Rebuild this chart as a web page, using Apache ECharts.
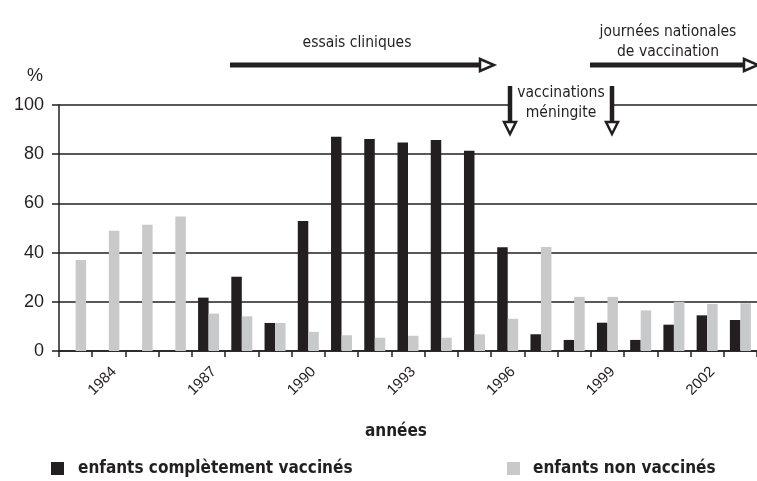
<!DOCTYPE html>
<html><head><meta charset="utf-8">
<script src="https://cdn.jsdelivr.net/npm/echarts@6/dist/echarts.min.js"></script>
<style>html,body{margin:0;padding:0;background:#fff}#c{width:757px;height:481px}</style>
</head><body><div id="c"></div>
<script>
const years = ['1983','1984','1985','1986','1987','1988','1989','1990','1991','1992','1993','1994','1995','1996','1997','1998','1999','2000','2001','2002','2003'];
const tickLabels = ['1984','1987','1990','1993','1996','1999','2002'];
const vaccinated = [0,0,0,0,21.7,30.2,11.4,52.8,87.1,86.2,84.8,85.8,81.4,42.2,6.8,4.5,11.5,4.5,10.7,14.5,12.6];
const unvaccinated = [37,48.9,51.3,54.7,15.2,14.1,11.4,7.8,6.4,5.4,6.2,5.4,6.8,13.1,42.3,22,22,16.5,20,19.1,19.4];
const seriesNames = ['enfants complètement vaccinés','enfants non vaccinés'];

const DARK = '#231f20', GRAY = '#c8c9cb';
const NARROW = '"Liberation Sans Narrow","DejaVu Sans Condensed","Open Sans",sans-serif';
const SANS = '"Liberation Sans",Arial,sans-serif';

const chart = echarts.init(document.getElementById('c'), null, {renderer:'canvas'});

function arrowH(x1, x2, y) {
  return [
    {type:'line', shape:{x1:x1, y1:y, x2:x2-2, y2:y}, style:{stroke:DARK, lineWidth:5}, z:10},
    {type:'polygon', shape:{points:[[x2-2,y-6],[x2+12,y],[x2-2,y+6]]}, style:{fill:'#fff', stroke:DARK, lineWidth:2.5}, z:11}
  ];
}
function arrowV(x, y1, y2) {
  return [
    {type:'line', shape:{x1:x, y1:y1, x2:x, y2:y2}, style:{stroke:DARK, lineWidth:4.5}, z:10},
    {type:'polygon', shape:{points:[[x-6,y2],[x+6,y2],[x,y2+12]]}, style:{fill:'#fff', stroke:DARK, lineWidth:2.5}, z:11}
  ];
}
function txt(x, y, s, opts) {
  return Object.assign({type:'text', x:x, y:y, z:12, style:Object.assign({text:s, fill:DARK, font:'15.5px '+NARROW, textAlign:'center', textVerticalAlign:'middle'}, opts||{})});
}

const option = {
  backgroundColor:'#fff',
  animation:false,
  grid:{left:59, top:105, width:701, height:246, containLabel:false},
  legend:[
    {left:46, top:455, data:[seriesNames[0]], icon:'rect', itemWidth:13, itemHeight:13,
     textStyle:{fontFamily:NARROW, fontWeight:'bold', fontSize:17, color:DARK, padding:[0,0,0,9]}},
    {left:502, top:455, data:[seriesNames[1]], icon:'rect', itemWidth:13, itemHeight:13,
     textStyle:{fontFamily:NARROW, fontWeight:'bold', fontSize:17, color:DARK, padding:[0,0,0,8]}}
  ],
  xAxis:{
    type:'category', data:years,
    axisLine:{lineStyle:{color:DARK, width:1.5}},
    axisTick:{show:true, interval:0, length:6, lineStyle:{color:DARK, width:1.5}},
    axisLabel:{
      interval:0, rotate:45, margin:13, align:'right', verticalAlign:'top',
      fontFamily:SANS, fontSize:15, color:DARK,
      formatter:function(v){ return tickLabels.indexOf(v) >= 0 ? v : ''; }
    }
  },
  yAxis:{
    type:'value', min:0, max:100, interval:20,
    axisLine:{show:true, lineStyle:{color:DARK, width:1.5}},
    axisTick:{show:true, length:7, lineStyle:{color:DARK, width:1.5}},
    axisLabel:{margin:15, fontFamily:SANS, fontSize:18, color:DARK},
    splitLine:{lineStyle:{color:DARK, width:1.5}}
  },
  series:[
    {name:seriesNames[0], type:'bar', data:vaccinated, barWidth:10.5, barGap:'0%', itemStyle:{color:DARK}},
    {name:seriesNames[1], type:'bar', data:unvaccinated, barWidth:10.5, barGap:'0%', itemStyle:{color:GRAY}}
  ],
  graphic:[
    {type:'rect', shape:{x:512, y:99, width:98, height:12}, style:{fill:'#fff'}, z:9},
    ...arrowH(230, 482, 65),
    ...arrowH(590, 746, 65),
    ...arrowV(510, 86, 122),
    ...arrowV(612, 86, 122),
    txt(357, 43, 'essais cliniques'),
    txt(668, 32, 'journées nationales'),
    txt(668, 52, 'de vaccination'),
    txt(561, 93, 'vaccinations'),
    txt(561, 113, 'méningite'),
    txt(35, 76, '%', {font:'18px '+SANS}),
    txt(396, 432, 'années', {font:'bold 17px '+NARROW})
  ]
};
chart.setOption(option);
</script></body></html>
